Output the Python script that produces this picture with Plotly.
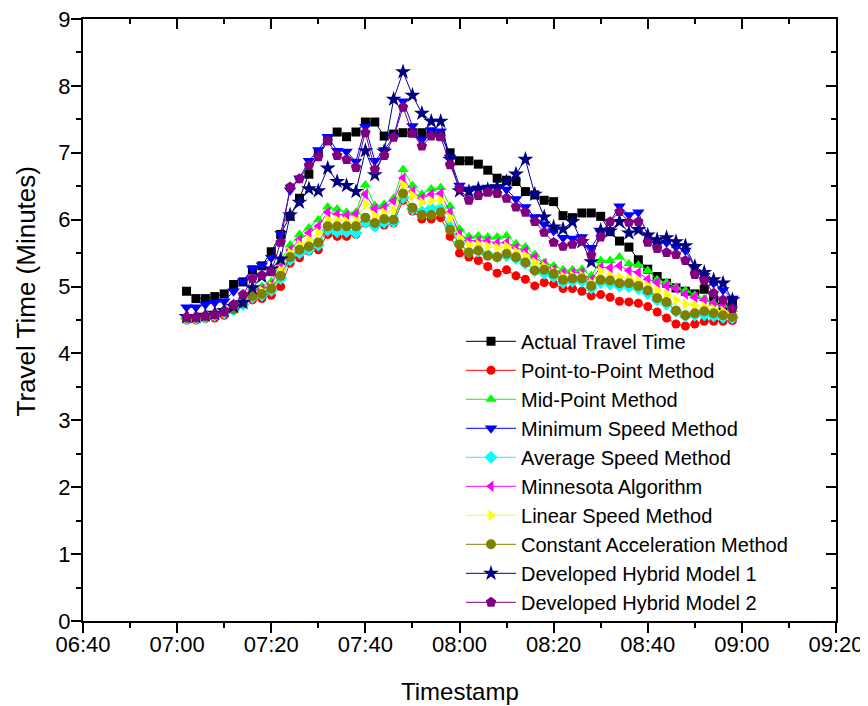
import plotly.graph_objects as go

times = ["07:02","07:04","07:06","07:08","07:10","07:12","07:14","07:16","07:18","07:20",
         "07:22","07:24","07:26","07:28","07:30","07:32","07:34","07:36","07:38","07:40",
         "07:42","07:44","07:46","07:48","07:50","07:52","07:54","07:56","07:58","08:00",
         "08:02","08:04","08:06","08:08","08:10","08:12","08:14","08:16","08:18","08:20",
         "08:22","08:24","08:26","08:28","08:30","08:32","08:34","08:36","08:38","08:40",
         "08:42","08:44","08:46","08:48","08:50","08:52","08:54","08:56","08:58"]

actual = [4.93, 4.82, 4.82, 4.85, 4.89, 5.03, 5.07, 5.25, 5.31, 5.52,
          5.78, 6.05, 6.32, 6.68, 7.00, 7.18, 7.31, 7.24, 7.31, 7.46,
          7.46, 7.25, 7.28, 7.30, 7.30, 7.30, 7.30, 7.25, 7.00, 6.88,
          6.88, 6.83, 6.74, 6.62, 6.59, 6.57, 6.42, 6.37, 6.29, 6.27,
          6.06, 6.03, 6.10, 6.10, 6.05, 5.82, 5.68, 5.59, 5.40, 5.26,
          5.15, 5.05, 4.98, 4.93, 4.89, 4.96, 4.80, 4.70, 4.74]
p2p = [4.50, 4.50, 4.52, 4.53, 4.57, 4.65, 4.76, 4.80, 4.82, 4.87,
       5.00, 5.35, 5.43, 5.53, 5.55, 5.78, 5.75, 5.75, 5.78, 5.95,
       5.90, 5.92, 5.95, 6.29, 6.13, 6.01, 6.01, 6.03, 5.75, 5.50,
       5.44, 5.39, 5.30, 5.20, 5.25, 5.16, 5.11, 5.01, 5.06, 5.04,
       4.97, 4.97, 4.93, 4.86, 4.88, 4.84, 4.78, 4.77, 4.75, 4.70,
       4.62, 4.53, 4.44, 4.41, 4.44, 4.48, 4.48, 4.48, 4.49]
midpoint = [4.55, 4.55, 4.57, 4.60, 4.66, 4.73, 4.85, 4.98, 5.00, 5.07,
            5.38, 5.62, 5.78, 5.88, 6.00, 6.19, 6.16, 6.11, 6.11, 6.52,
            6.21, 6.23, 6.32, 6.75, 6.51, 6.38, 6.46, 6.48, 6.20, 5.86,
            5.75, 5.76, 5.74, 5.74, 5.76, 5.64, 5.59, 5.48, 5.36, 5.31,
            5.25, 5.25, 5.26, 5.16, 5.39, 5.39, 5.44, 5.34, 5.32, 5.24,
            5.10, 5.06, 4.99, 4.94, 4.87, 4.82, 4.75, 4.72, 4.66]
minspeed = [4.69, 4.69, 4.73, 4.76, 4.78, 4.93, 5.08, 5.27, 5.32, 5.43,
            5.79, 6.44, 6.62, 6.88, 7.04, 7.24, 7.03, 7.02, 6.87, 7.39,
            6.88, 7.04, 7.24, 7.77, 7.40, 7.20, 7.34, 7.32, 6.93, 6.51,
            6.45, 6.47, 6.48, 6.48, 6.45, 6.31, 6.19, 6.04, 5.93, 5.83,
            5.73, 5.72, 5.74, 5.58, 5.81, 5.97, 6.20, 6.07, 6.11, 5.76,
            5.64, 5.66, 5.59, 5.54, 5.29, 5.16, 5.05, 4.95, 4.82]
avgspeed = [4.52, 4.52, 4.54, 4.57, 4.61, 4.65, 4.73, 4.84, 4.87, 4.94,
            5.12, 5.40, 5.50, 5.55, 5.62, 5.84, 5.82, 5.82, 5.80, 5.96,
            5.90, 5.96, 5.97, 6.33, 6.16, 6.12, 6.17, 6.18, 5.90, 5.66,
            5.52, 5.53, 5.48, 5.45, 5.46, 5.42, 5.35, 5.24, 5.20, 5.15,
            5.06, 5.08, 5.08, 4.98, 5.06, 5.04, 5.01, 5.00, 4.97, 4.90,
            4.80, 4.74, 4.63, 4.56, 4.57, 4.58, 4.56, 4.54, 4.53]
minnesota = [4.54, 4.54, 4.56, 4.59, 4.64, 4.71, 4.82, 4.93, 4.96, 5.03,
             5.30, 5.55, 5.70, 5.80, 5.90, 6.11, 6.08, 6.06, 6.08, 6.38,
             6.16, 6.18, 6.28, 6.62, 6.42, 6.32, 6.38, 6.39, 6.11, 5.79,
             5.69, 5.68, 5.68, 5.65, 5.66, 5.58, 5.53, 5.43, 5.34, 5.26,
             5.20, 5.20, 5.21, 5.10, 5.29, 5.28, 5.31, 5.24, 5.21, 5.11,
             5.06, 5.01, 4.97, 4.89, 4.84, 4.80, 4.75, 4.71, 4.65]
linear = [4.53, 4.53, 4.55, 4.58, 4.62, 4.69, 4.79, 4.90, 4.93, 5.00,
          5.24, 5.50, 5.63, 5.70, 5.80, 6.00, 5.99, 5.97, 5.98, 6.23,
          6.06, 6.10, 6.14, 6.52, 6.36, 6.26, 6.28, 6.29, 6.03, 5.73,
          5.62, 5.63, 5.60, 5.58, 5.60, 5.52, 5.46, 5.36, 5.30, 5.22,
          5.15, 5.16, 5.16, 5.05, 5.23, 5.16, 5.14, 5.12, 5.08, 5.01,
          4.94, 4.88, 4.80, 4.74, 4.72, 4.70, 4.66, 4.63, 4.60]
constacc = [4.53, 4.53, 4.55, 4.58, 4.63, 4.66, 4.75, 4.86, 4.89, 4.97,
            5.16, 5.44, 5.55, 5.60, 5.66, 5.90, 5.90, 5.90, 5.90, 6.03,
            5.95, 6.01, 6.00, 6.39, 6.18, 6.07, 6.07, 6.11, 5.85, 5.63,
            5.51, 5.54, 5.46, 5.44, 5.49, 5.44, 5.36, 5.24, 5.25, 5.19,
            5.10, 5.12, 5.12, 5.01, 5.10, 5.09, 5.05, 5.05, 5.01, 4.94,
            4.83, 4.77, 4.64, 4.57, 4.60, 4.63, 4.60, 4.57, 4.55]
hybrid1 = [4.55, 4.55, 4.57, 4.60, 4.64, 4.70, 4.76, 4.98, 5.15, 5.26,
           5.41, 6.07, 6.26, 6.46, 6.43, 6.77, 6.57, 6.51, 6.42, 7.03,
           6.67, 7.02, 7.80, 8.21, 7.86, 7.59, 7.47, 7.47, 6.90, 6.43,
           6.42, 6.46, 6.45, 6.49, 6.57, 6.68, 6.90, 6.38, 6.04, 5.89,
           5.86, 5.97, 5.67, 5.37, 5.84, 5.83, 5.97, 5.80, 5.85, 5.77,
           5.70, 5.73, 5.67, 5.61, 5.30, 5.21, 5.10, 5.05, 4.80]
hybrid2 = [4.54, 4.54, 4.56, 4.58, 4.62, 4.73, 4.88, 5.12, 5.17, 5.22,
           5.66, 6.49, 6.61, 6.81, 6.94, 7.18, 6.96, 6.90, 6.78, 7.30,
           6.75, 6.96, 7.23, 7.68, 7.29, 7.10, 7.25, 7.24, 6.82, 6.47,
           6.29, 6.36, 6.41, 6.39, 6.32, 6.19, 6.11, 5.97, 5.81, 5.66,
           5.60, 5.63, 5.68, 5.47, 5.74, 5.97, 6.12, 5.96, 5.97, 5.66,
           5.57, 5.51, 5.48, 5.39, 5.18, 5.09, 4.90, 4.80, 4.67]

series_names = ["Actual Travel Time", "Point-to-Point Method", "Mid-Point Method",
                "Minimum Speed Method", "Average Speed Method", "Minnesota Algorithm",
                "Linear Speed Method", "Constant Acceleration Method",
                "Developed Hybrid Model 1", "Developed Hybrid Model 2"]
series_values = [actual, p2p, midpoint, minspeed, avgspeed, minnesota, linear,
                 constacc, hybrid1, hybrid2]
colors = ["#000000", "#FF0000", "#00FF00", "#0000FF", "#00FFFF", "#FF00FF",
          "#FFFF00", "#808000", "#000080", "#800080"]
symbols = ["square", "circle", "triangle-up", "triangle-down", "diamond",
           "triangle-left", "triangle-right", "circle", "star", "pentagon"]
sizes = [9, 9, 10, 11, 10, 10, 10, 10, 12, 11]

x_tick_labels = ["06:40", "07:00", "07:20", "07:40", "08:00", "08:20", "08:40", "09:00", "09:20"]
y_tick_labels = ["0", "1", "2", "3", "4", "5", "6", "7", "8", "9"]

day = "2024-01-01 "
xs = [day + t for t in times]
xtickvals = [day + t for t in x_tick_labels]

FONT = "Liberation Sans, Arial, sans-serif"
fig = go.Figure()
for name, vals, c, s, sz in zip(series_names, series_values, colors, symbols, sizes):
    fig.add_trace(go.Scatter(
        x=xs, y=vals, name=name, mode="lines+markers",
        line=dict(color=c, width=1),
        marker=dict(symbol=s, size=sz, color=c, line=dict(width=0)),
    ))

# dummy trace to create mirrored axes with inward ticks
fig.add_trace(go.Scatter(x=[xs[0]], y=[None], xaxis="x2", yaxis="y2",
                         showlegend=False, hoverinfo="skip", mode="markers"))

xrange = [day + "06:40", day + "09:20"]
tick_common = dict(showgrid=False, zeroline=False, showline=True, linecolor="black",
                   linewidth=2, tickwidth=2, tickcolor="black", ticklen=10,
                   automargin=False)
fig.update_layout(
    width=868, height=698,
    margin=dict(l=75, r=40, t=11, b=85),
    plot_bgcolor="white", paper_bgcolor="white",
    font=dict(family=FONT, size=22, color="black"),
    xaxis=dict(
        type="date", range=xrange, tickvals=xtickvals, ticktext=x_tick_labels,
        ticks="outside", ticklabelstandoff=-7, ticklabeloverflow="allow",
        minor=dict(ticks="outside", ticklen=5, tickwidth=2, tickcolor="black",
                   dtick=600000, tick0=day + "06:40", showgrid=False),
        tickfont=dict(size=22), **tick_common,
    ),
    yaxis=dict(
        range=[0, 9], tickvals=list(range(10)), ticktext=y_tick_labels,
        ticks="outside", ticklabelstandoff=-4, ticklabeloverflow="allow",
        minor=dict(ticks="outside", ticklen=5, tickwidth=2, tickcolor="black",
                   dtick=0.5, showgrid=False),
        tickfont=dict(size=22), **tick_common,
    ),
    xaxis2=dict(
        type="date", range=xrange, overlaying="x", side="top", anchor="y2",
        tickvals=xtickvals, showticklabels=False, ticks="inside",
        minor=dict(ticks="inside", ticklen=5, tickwidth=2, tickcolor="black",
                   dtick=600000, tick0=day + "06:40", showgrid=False),
        **tick_common,
    ),
    yaxis2=dict(
        range=[0, 9], overlaying="y", side="right", anchor="x2",
        tickvals=list(range(10)), showticklabels=False, ticks="inside",
        minor=dict(ticks="inside", ticklen=5, tickwidth=2, tickcolor="black",
                   dtick=0.5, showgrid=False),
        **tick_common,
    ),
    legend=dict(
        x=0.502, y=0.497, xanchor="left", yanchor="top",
        bgcolor="rgba(0,0,0,0)", borderwidth=0,
        font=dict(size=20), itemwidth=50, tracegroupgap=0,
    ),
    annotations=[
        dict(text="Timestamp", xref="paper", yref="paper", x=0.5, y=-0.1177,
             xanchor="center", yanchor="middle", showarrow=False,
             font=dict(size=24)),
        dict(text="Travel Time (Minutes)", xref="paper", yref="paper", x=-0.076,
             y=0.547, xanchor="center", yanchor="middle", textangle=-90,
             showarrow=False, font=dict(size=26)),
    ],
    showlegend=True,
)

fig.write_html("out.html")
